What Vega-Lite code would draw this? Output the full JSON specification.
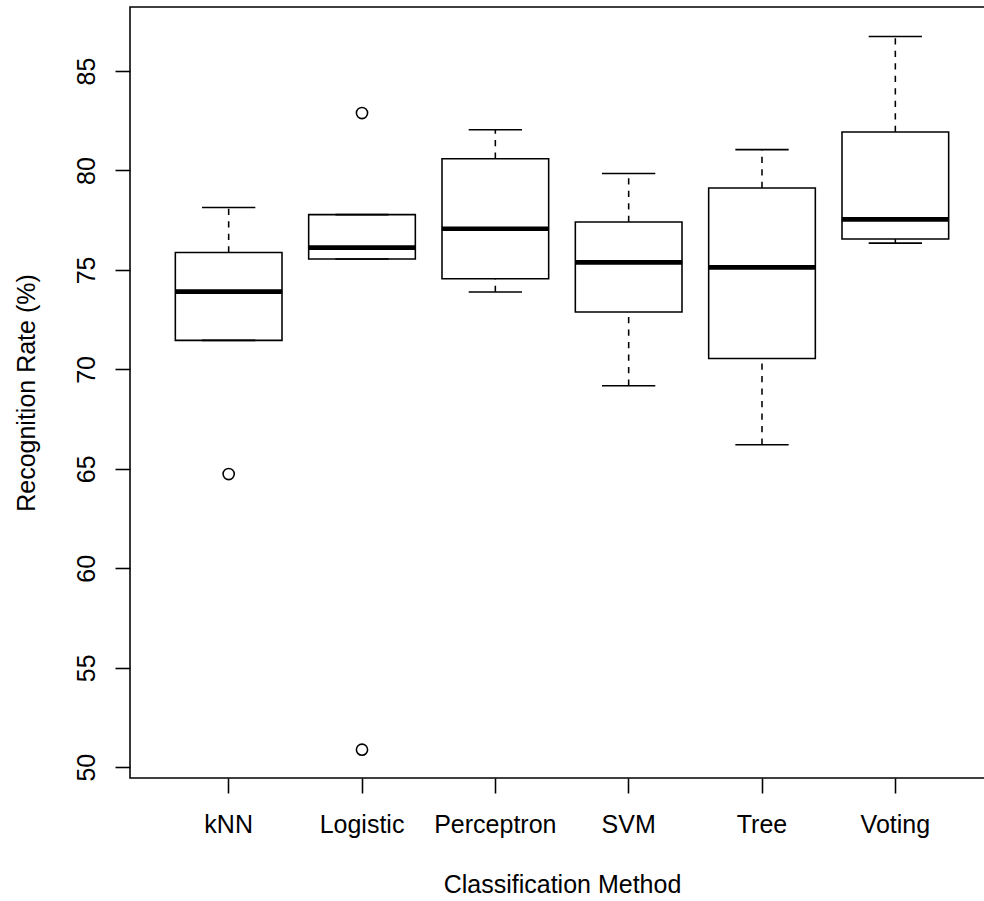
{
  "$schema": "https://vega.github.io/schema/vega-lite/v6.json",
  "width": 864,
  "height": 771,
  "autosize": {"type": "none"},
  "padding": {"left": 130, "top": 7, "right": -10, "bottom": 123},
  "background": "white",
  "config": {
    "view": {"stroke": "black", "strokeWidth": 1.56},
    "font": "Liberation Sans",
    "axis": {
      "grid": false,
      "domain": false,
      "ticks": true,
      "tickColor": "black",
      "tickWidth": 1.56,
      "tickSize": 15,
      "labelFont": "Liberation Sans",
      "labelFontSize": 25,
      "labelColor": "black",
      "titleFont": "Liberation Sans",
      "titleFontSize": 25,
      "titleFontWeight": "normal",
      "titleColor": "black"
    }
  },
  "datasets": {
    "stats": [
      {"method": "kNN", "lower": 71.46, "q1": 71.46, "median": 73.91, "q3": 75.88, "upper": 78.14},
      {"method": "Logistic", "lower": 75.55, "q1": 75.55, "median": 76.12, "q3": 77.78, "upper": 77.78},
      {"method": "Perceptron", "lower": 73.89, "q1": 74.56, "median": 77.07, "q3": 80.59, "upper": 82.05},
      {"method": "SVM", "lower": 69.18, "q1": 72.89, "median": 75.38, "q3": 77.41, "upper": 79.85},
      {"method": "Tree", "lower": 66.21, "q1": 70.55, "median": 75.13, "q3": 79.12, "upper": 81.05},
      {"method": "Voting", "lower": 76.35, "q1": 76.56, "median": 77.54, "q3": 81.94, "upper": 86.74}
    ],
    "outliers": [
      {"method": "kNN", "value": 64.74},
      {"method": "Logistic", "value": 82.89},
      {"method": "Logistic", "value": 50.88}
    ]
  },
  "encoding": {
    "x": {
      "field": "method",
      "type": "nominal",
      "scale": {
        "type": "band",
        "domain": ["kNN", "Logistic", "Perceptron", "SVM", "Tree", "Voting"],
        "paddingInner": 0.2,
        "paddingOuter": 0.34
      },
      "axis": {
        "title": "Classification Method",
        "labelAngle": 0,
        "labelAlign": "center",
        "labelBaseline": "alphabetic",
        "labelPadding": 39,
        "titleBaseline": "alphabetic",
        "titleAlign": "center",
        "titleX": 432,
        "titleY": 114
      }
    }
  },
  "layer": [
    {
      "data": {"name": "stats"},
      "mark": {"type": "rule", "color": "black", "strokeWidth": 1.56, "strokeDash": [6.25, 6.25]},
      "encoding": {
        "y": {
          "field": "q3",
          "type": "quantitative",
          "scale": {"domain": [49.457, 88.22], "nice": false, "zero": false},
          "axis": {
            "title": "Recognition Rate (%)",
            "values": [50, 55, 60, 65, 70, 75, 80, 85],
            "labelAngle": 270,
            "labelAlign": "center",
            "labelBaseline": "alphabetic",
            "labelPadding": 21,
            "titleAngle": 270,
            "titleAlign": "center",
            "titleBaseline": "alphabetic",
            "titleX": -96,
            "titleY": 385.5
          }
        },
        "y2": {"field": "upper"}
      }
    },
    {
      "data": {"name": "stats"},
      "mark": {"type": "rule", "color": "black", "strokeWidth": 1.56, "strokeDash": [6.25, 6.25]},
      "encoding": {
        "y": {"field": "lower", "type": "quantitative"},
        "y2": {"field": "q1"}
      }
    },
    {
      "data": {"name": "stats"},
      "mark": {"type": "bar", "fill": "white", "stroke": "black", "strokeWidth": 1.56},
      "encoding": {
        "y": {"field": "q1", "type": "quantitative"},
        "y2": {"field": "q3"}
      }
    },
    {
      "data": {"name": "stats"},
      "mark": {"type": "tick", "color": "black", "opacity": 1, "size": 53.3, "thickness": 1.56},
      "encoding": {
        "y": {"field": "upper", "type": "quantitative"}
      }
    },
    {
      "data": {"name": "stats"},
      "mark": {"type": "tick", "color": "black", "opacity": 1, "size": 53.3, "thickness": 1.56},
      "encoding": {
        "y": {"field": "lower", "type": "quantitative"}
      }
    },
    {
      "data": {"name": "stats"},
      "mark": {"type": "tick", "color": "black", "opacity": 1, "size": 107, "thickness": 4.7},
      "encoding": {
        "y": {"field": "median", "type": "quantitative"}
      }
    },
    {
      "data": {"name": "outliers"},
      "mark": {"type": "point", "shape": "circle", "filled": false, "stroke": "black", "strokeWidth": 1.56, "opacity": 1, "size": 125},
      "encoding": {
        "y": {"field": "value", "type": "quantitative"}
      }
    }
  ]
}
